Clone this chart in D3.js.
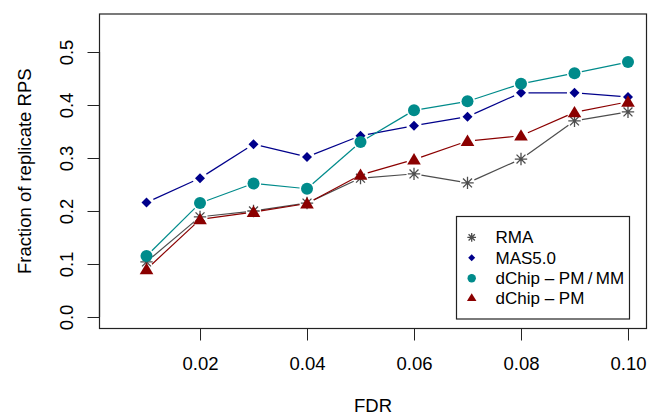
<!DOCTYPE html>
<html>
<head>
<meta charset="utf-8">
<script src="https://cdn.jsdelivr.net/npm/d3@7"></script>
<style>
  body { margin: 0; background: #fff; }
  svg text { font-family: "Liberation Sans", Arial, Helvetica, sans-serif; fill: #000; }
</style>
</head>
<body>
<div id="chart"></div>
<script>
// data
var fdr = [0.01, 0.02, 0.03, 0.04, 0.05, 0.06, 0.07, 0.08, 0.09, 0.10];
var rma = [0.104, 0.189, 0.200, 0.215, 0.262, 0.270, 0.253, 0.298, 0.370, 0.387];
var mas5 = [0.216, 0.262, 0.326, 0.302, 0.342, 0.361, 0.378, 0.423, 0.423, 0.415];
var dchipPMMM = [0.115, 0.215, 0.252, 0.242, 0.330, 0.390, 0.407, 0.440, 0.460, 0.481];
var dchipPM = [0.090, 0.184, 0.198, 0.214, 0.268, 0.297, 0.332, 0.342, 0.386, 0.406];
var xTicks = [0.02, 0.04, 0.06, 0.08, 0.10];
var yTicks = [0.0, 0.1, 0.2, 0.3, 0.4, 0.5];
var seriesNames = ["RMA", "MAS5.0", "dChip \u2013 PM\u2009/\u2009MM", "dChip \u2013 PM"];

var W = 648, H = 417;
var box = { left: 99.5, right: 646.5, top: 14, bottom: 328.5 };
var fs = 18.5;     // axis text
var legFs = 17;    // legend text

var series = [
  { name: seriesNames[0], values: rma, color: "#4d4d4d", shape: "star" },
  { name: seriesNames[1], values: mas5, color: "#00008b", shape: "diamond" },
  { name: seriesNames[2], values: dchipPMMM, color: "#008b8b", shape: "circle" },
  { name: seriesNames[3], values: dchipPM, color: "#8b0000", shape: "triangle" }
];

var x = d3.scaleLinear().domain([0.00121, 0.10346]).range([box.left, box.right]);
var y = d3.scaleLinear().domain([-0.0217, 0.5717]).range([box.bottom, box.top]);

var svg = d3.select("#chart").append("svg")
  .attr("width", W).attr("height", H);

function drawMarker(g, shape, cx, cy, s, color) {
  if (shape === "star") {
    var r = 6.2 * s;
    var d = r * 0.72;
    var p = "M" + (cx - r) + "," + cy + "L" + (cx + r) + "," + cy +
      "M" + cx + "," + (cy - r) + "L" + cx + "," + (cy + r) +
      "M" + (cx - d) + "," + (cy - d) + "L" + (cx + d) + "," + (cy + d) +
      "M" + (cx - d) + "," + (cy + d) + "L" + (cx + d) + "," + (cy - d);
    g.append("path").attr("d", p).attr("stroke", color).attr("stroke-width", 1.3).attr("fill", "none");
  } else if (shape === "diamond") {
    var r2 = 5 * s;
    g.append("path")
      .attr("d", "M" + cx + "," + (cy - r2) + "L" + (cx + r2) + "," + cy + "L" + cx + "," + (cy + r2) + "L" + (cx - r2) + "," + cy + "Z")
      .attr("fill", color);
  } else if (shape === "circle") {
    g.append("circle").attr("cx", cx).attr("cy", cy).attr("r", 6 * s).attr("fill", color);
  } else {
    var h = 6.5 * s;
    g.append("path")
      .attr("d", "M" + cx + "," + (cy - h) + "L" + (cx + h * 1.05) + "," + (cy + h * 0.75) + "L" + (cx - h * 1.05) + "," + (cy + h * 0.75) + "Z")
      .attr("fill", color);
  }
}

// lines with gaps around points (type = "b")
var gap = 7.5;
series.forEach(function(s) {
  var g = svg.append("g");
  for (var i = 0; i < fdr.length - 1; i++) {
    var x1 = x(fdr[i]), y1 = y(s.values[i]);
    var x2 = x(fdr[i + 1]), y2 = y(s.values[i + 1]);
    var len = Math.sqrt((x2 - x1) * (x2 - x1) + (y2 - y1) * (y2 - y1));
    if (len <= 2 * gap) continue;
    var ux = (x2 - x1) / len, uy = (y2 - y1) / len;
    g.append("line")
      .attr("x1", x1 + ux * gap).attr("y1", y1 + uy * gap)
      .attr("x2", x2 - ux * gap).attr("y2", y2 - uy * gap)
      .attr("stroke", s.color).attr("stroke-width", 1.2);
  }
  fdr.forEach(function(f, i) {
    drawMarker(g, s.shape, x(f), y(s.values[i]), 1, s.color);
  });
});

// box
svg.append("rect")
  .attr("x", box.left).attr("y", box.top)
  .attr("width", box.right - box.left).attr("height", box.bottom - box.top)
  .attr("fill", "none").attr("stroke", "#222").attr("stroke-width", 1.2);

// x axis
var xAxis = svg.append("g")
  .attr("transform", "translate(0," + box.bottom + ")")
  .call(d3.axisBottom(x).tickValues(xTicks).tickSize(12).tickPadding(16)
    .tickFormat(d3.format(".2f")));
xAxis.select(".domain").attr("d", "M" + x(xTicks[0]) + ",0H" + x(xTicks[xTicks.length - 1]))
  .attr("stroke", "#222").attr("stroke-width", 1.2);
xAxis.selectAll(".tick line").attr("stroke", "#222");
xAxis.selectAll("text").attr("font-size", fs).attr("fill", "#000");

// y axis
var yAxis = svg.append("g")
  .attr("transform", "translate(" + box.left + ",0)")
  .call(d3.axisLeft(y).tickValues(yTicks).tickSize(12).tickFormat(d3.format(".1f")));
yAxis.select(".domain").attr("d", "M0," + y(yTicks[0]) + "V" + y(yTicks[yTicks.length - 1]))
  .attr("stroke", "#222").attr("stroke-width", 1.2);
yAxis.selectAll(".tick line").attr("stroke", "#222");
yAxis.selectAll("text")
  .attr("font-size", fs).attr("fill", "#000")
  .attr("x", null).attr("dy", null)
  .attr("text-anchor", "middle")
  .attr("transform", "translate(-27,0) rotate(-90)");

// axis titles
svg.append("text")
  .attr("x", (box.left + box.right) / 2).attr("y", 412)
  .attr("text-anchor", "middle").attr("font-size", fs)
  .text("FDR");
svg.append("text")
  .attr("transform", "translate(31," + ((box.top + box.bottom) / 2) + ") rotate(-90)")
  .attr("text-anchor", "middle").attr("font-size", fs)
  .text("Fraction of replicate RPS");

// legend
var leg = { left: 456.5, top: 216.5, right: 629.5, bottom: 319 };
svg.append("rect")
  .attr("x", leg.left).attr("y", leg.top)
  .attr("width", leg.right - leg.left).attr("height", leg.bottom - leg.top)
  .attr("fill", "#fff").attr("stroke", "#222").attr("stroke-width", 1.2);
var rowY = [237.3, 257.7, 278.3, 297.7];
series.forEach(function(s, i) {
  var g = svg.append("g");
  drawMarker(g, s.shape, 471.7, rowY[i], 0.7, s.color);
  g.append("text")
    .attr("x", 495.5).attr("y", rowY[i]).attr("dy", "0.36em")
    .attr("font-size", legFs)
    .text(s.name);
});
</script>
</body>
</html>
